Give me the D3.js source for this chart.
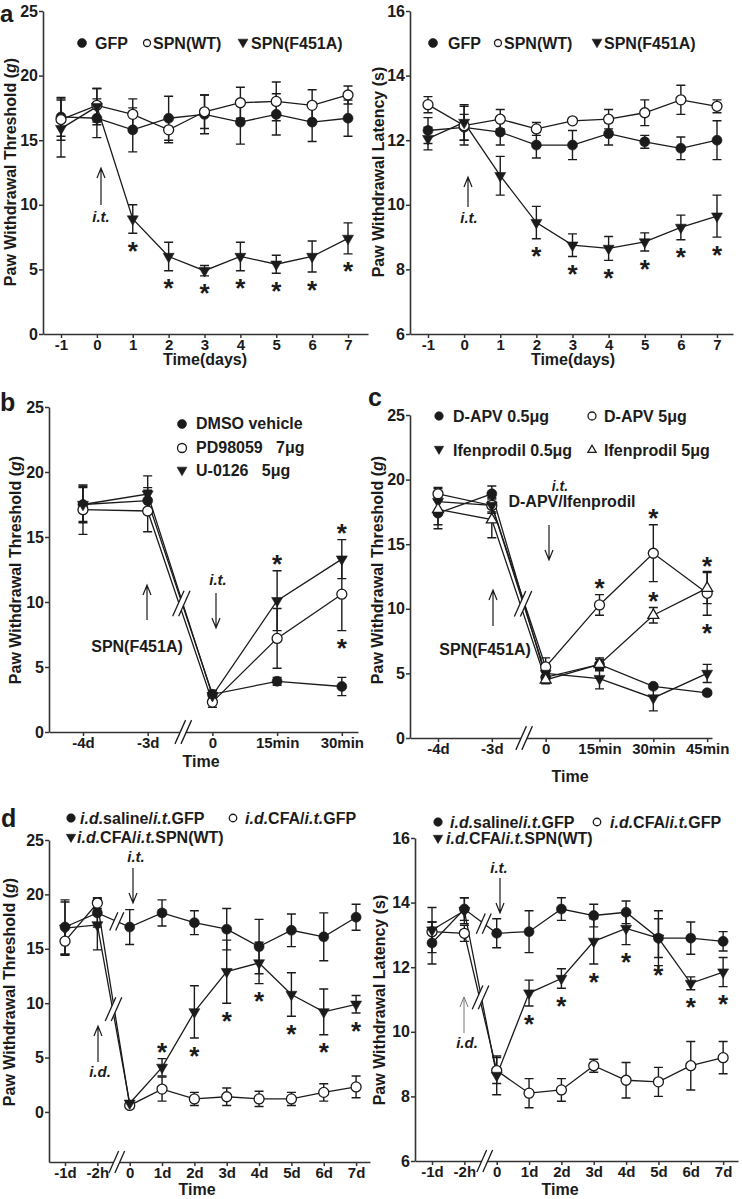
<!DOCTYPE html>
<html><head><meta charset="utf-8">
<script src="https://cdn.jsdelivr.net/npm/d3@7"></script>
<style>
body{margin:0;background:#fff;}
svg{display:block;font-family:"Liberation Sans",Arial,Helvetica,sans-serif;font-weight:bold;}
</style></head><body>
<svg id="fig" width="742" height="1199"></svg>
<script>
// ================= DATA =================
// Panel a
const aDays = [-1,0,1,2,3,4,5,6,7];
const aDayLabels = ["-1","0","1","2","3","4","5","6","7"];
const aThrTicks = [0,5,10,15,20,25];
const aLatTicks = [6,8,10,12,14,16];
const aThrGFP = [16.8,16.7,15.8,16.7,17.0,16.4,17.0,16.4,16.7];
const aThrGFPErr = [1.5,1.5,1.7,1.7,1.5,1.7,1.6,1.5,1.4];
const aThrWT = [16.6,17.7,17.0,15.8,17.2,17.9,18.0,17.7,18.5];
const aThrWTErr = [1.6,1.3,1.2,1.0,1.3,1.2,1.5,1.2,0.7];
const aThrF451A = [15.9,17.6,8.9,6.0,4.9,6.0,5.4,6.0,7.4];
const aThrF451AErr = [2.2,1.4,1.1,1.1,0.4,1.1,0.7,1.2,1.2];
const aThrStarIdx = [2,3,4,5,6,7,8];
const aLatGFP = [12.3,12.4,12.25,11.85,11.85,12.2,11.95,11.75,12.0];
const aLatGFPErr = [0.4,0.4,0.4,0.4,0.45,0.35,0.2,0.35,0.6];
const aLatWT = [13.1,12.45,12.65,12.35,12.6,12.65,12.85,13.25,13.05];
const aLatWTErr = [0.25,0.6,0.3,0.2,0.05,0.3,0.4,0.45,0.2];
const aLatF451A = [12.05,12.55,10.9,9.45,8.75,8.65,8.85,9.3,9.65];
const aLatF451AErr = [0.35,0.55,0.6,0.5,0.35,0.37,0.28,0.38,0.65];
const aLatStarIdx = [3,4,5,6,7,8];
const aLegend = ["GFP","SPN(WT)","SPN(F451A)"];

// Panel b
const bTimes = [0,1,2,3,4];
const bTimeLabels = ["-4d","-3d","0","15min","30min"];
const bDMSO = [17.5,17.8,2.9,3.9,3.5];
const bDMSOErr = [1.4,1.0,0.3,0.3,0.7];
const bPD = [17.1,17.0,2.3,7.2,10.6];
const bPDErr = [1.9,1.6,0.4,2.3,2.8];
const bU0126 = [17.5,18.3,2.8,10.1,13.3];
const bU0126Err = [1.3,1.4,0.4,2.3,1.5];
const bStars = [["U0126",3,"up"],["U0126",4,"up"],["PD",4,"down"]];
const bLegend = ["DMSO vehicle","PD98059   7μg","U-0126   5μg"];

// Panel c
const cTimes = [0,1,2,3,4,5];
const cTimeLabels = ["-4d","-3d","0","15min","30min","45min"];
const cDAPV05 = [17.4,18.9,4.7,5.7,4.0,3.5];
const cDAPV05Err = [1.2,0.6,0.4,0.5,0.15,0.15];
const cDAPV5 = [18.9,18.0,5.5,10.3,14.3,11.2];
const cDAPV5Err = [0.5,0.6,0.7,0.8,2.2,1.7];
const cIfen05 = [18.3,18.0,5.0,4.6,3.1,5.0];
const cIfen05Err = [1.0,0.5,0.3,0.8,1.0,0.7];
const cIfen5 = [17.7,16.9,4.5,5.7,9.5,11.6];
const cIfen5Err = [1.2,1.4,0.3,0.4,0.6,1.2];
const cStars = [["DAPV5",3,"up"],["DAPV5",4,"up"],["Ifen5",4,"up"],["Ifen5",5,"up"],["DAPV5",5,"down"]];
const cLegend = ["D-APV 0.5μg","D-APV 5μg","Ifenprodil 0.5μg","Ifenprodil 5μg"];

// Panel d
const dTimes = [0,1,2,3,4,5,6,7,8,9];
const dTimeLabels = ["-1d","-2h","0","1d","2d","3d","4d","5d","6d","7d"];
const dThrSaline = [17.0,18.3,17.0,18.3,17.4,16.8,15.2,16.7,16.1,17.9];
const dThrSalineErr = [2.5,1.3,1.6,1.2,1.1,1.9,2.5,1.5,2.2,1.2];
const dThrCFA = [15.7,19.2,0.6,2.1,1.2,1.4,1.2,1.2,1.8,2.3];
const dThrCFAErr = [1.3,0.5,0.1,1.1,0.6,0.8,0.7,0.6,0.8,1.0];
const dThrSPN = [16.9,17.2,0.8,4.1,9.2,12.9,13.7,10.8,9.2,9.9];
const dThrSPNErr = [2.4,2.3,0.2,0.8,2.4,2.9,1.9,2.0,2.1,0.8];
const dThrStars = [["SPN",3,"up"],["SPN",4,"down"],["SPN",5,"down"],["SPN",6,"down"],["SPN",7,"down"],["SPN",8,"down"],["SPN",9,"down"]];
const dLatSaline = [12.75,13.8,13.05,13.1,13.8,13.6,13.7,12.9,12.9,12.8];
const dLatSalineErr = [0.65,0.35,0.45,0.65,0.35,0.35,0.35,0.85,0.5,0.3];
const dLatCFA = [13.1,13.05,8.8,8.1,8.2,8.95,8.5,8.45,8.95,9.2];
const dLatCFAErr = [0.3,0.25,0.4,0.45,0.35,0.2,0.55,0.45,0.75,0.5];
const dLatSPN = [13.15,13.75,8.65,11.2,11.65,12.8,13.2,12.9,11.5,11.85];
const dLatSPNErr = [0.7,0.4,0.6,0.4,0.3,0.7,0.5,0.6,0.2,0.45];
const dLatStars = [["SPN",3,"down"],["SPN",4,"down"],["SPN",5,"down"],["SPN",6,"down"],["SPN",7,"down"],["SPN",8,"down"],["SPN",9,"down"]];
const dThrTicks = [0,5,10,15,20,25];
const dLatTicks = [6,8,10,12,14,16];

// ================= DRAWING =================
const svg = d3.select("#fig");
const INK = "#1b1b1b";
const FONT = '"Liberation Sans",Arial,Helvetica,sans-serif';

function drawSym(g, type, cx, cy, s = 1) {
  const open = type === "oc" || type === "tu";
  let p, rot = 0;
  if (type === "fc" || type === "oc") p = d3.symbol(d3.symbolCircle, Math.PI * 25 * s * s)();
  else { p = d3.symbol(d3.symbolTriangle, 52 * s * s)(); if (type === "td") rot = 180; }
  g.append("path").attr("d", p)
    .attr("transform", `translate(${cx},${cy}) rotate(${rot})`)
    .attr("fill", open ? "#fff" : INK).attr("stroke", INK)
    .attr("stroke-width", open ? 1.3 : 0.6);
}

function breakMark(g, cx, cy, len, ang = 66, sep = 6) {
  const a = ang * Math.PI / 180, dx = Math.cos(a) * len / 2, dy = Math.sin(a) * len / 2;
  const pts = [[cx - sep / 2 - dx, cy + dy], [cx - sep / 2 + dx, cy - dy], [cx + sep / 2 + dx, cy - dy], [cx + sep / 2 - dx, cy + dy]];
  g.append("path").attr("d", d3.line()(pts) + "Z").attr("fill", "#fff");
  [-sep / 2, sep / 2].forEach(o => g.append("line")
    .attr("x1", cx + o - dx).attr("y1", cy + dy).attr("x2", cx + o + dx).attr("y2", cy - dy)
    .attr("stroke", INK).attr("stroke-width", 1.3));
}

function arrow(g, x, yTail, yHead, color = INK, w = 1.2) {
  const dir = Math.sign(yHead - yTail);
  g.append("path")
    .attr("d", `M${x},${yTail}L${x},${yHead}M${x - 4},${yHead - dir * 10}L${x},${yHead}L${x + 4},${yHead - dir * 10}`)
    .attr("fill", "none").attr("stroke", color).attr("stroke-width", w);
}

function txt(g, x, y, parts, opt = {}) {
  const t = g.append("text").attr("x", x).attr("y", y)
    .attr("font-size", opt.size || 16).attr("font-weight", "bold")
    .attr("font-family", FONT).attr("fill", opt.color || INK)
    .attr("text-anchor", opt.anchor || "start")
    .style("white-space", "pre");
  if (opt.rotate) t.attr("transform", `rotate(${opt.rotate},${x},${y})`);
  if (opt.dy) t.attr("dy", opt.dy);
  (Array.isArray(parts) ? parts : [[parts, false]]).forEach(([s, it]) =>
    t.append("tspan").text(s).attr("font-style", it ? "italic" : "normal"));
  return t;
}

function styleAxis(sel, fs) {
  sel.attr("font-family", FONT).attr("font-size", fs).attr("font-weight", "bold");
  sel.select(".domain").attr("stroke", "#333").attr("stroke-width", 1.6);
  sel.selectAll(".tick line").attr("stroke", "#333").attr("stroke-width", 1.5);
  sel.selectAll(".tick text").attr("fill", INK);
}

function star(g, cx, cy) {
  const fs = 26;
  g.append("text").attr("x", cx).attr("y", cy + fs * 0.56).attr("text-anchor", "middle")
    .attr("font-size", fs).attr("font-weight", "bold").attr("font-family", FONT)
    .attr("fill", INK).text("*");
}

function drawPanel(c) {
  const g = svg.append("g");
  const x = d3.scaleLinear().domain(c.xDom).range(c.xRng);
  const y = d3.scaleLinear().domain(c.yDom).range(c.yRng);

  g.append("g").attr("transform", `translate(0,${c.yRng[0]})`)
    .call(d3.axisBottom(x).tickValues(c.xVals).tickFormat((d, i) => c.xLabels[i])
      .tickSize(4).tickPadding(1).tickSizeOuter(0)).call(styleAxis, 15);
  g.append("g").attr("transform", `translate(${c.xRng[0]},0)`)
    .call(d3.axisLeft(y).tickValues(c.yTicks).tickSize(4).tickPadding(1).tickSizeOuter(0)).call(styleAxis, 16);

  const ser = {};
  c.series.forEach(s => ser[s.key] = s);
  c.series.forEach(s => {
    g.append("path").datum(s.v)
      .attr("d", d3.line().x((d, i) => x(c.xVals[i])).y(d => y(d)))
      .attr("fill", "none").attr("stroke", INK).attr("stroke-width", 1.3);
  });
  (c.breaks || []).forEach(b => {
    const cx = x(b.at);
    let cy;
    if (b.axis) cy = c.yRng[0];
    else {
      const i0 = Math.floor(b.at), f = b.at - i0;
      const vals = b.on.map(k => ser[k].v[i0] * (1 - f) + ser[k].v[i0 + 1] * f);
      cy = y(d3.mean(vals));
    }
    breakMark(g, cx, cy, b.len || 24);
  });
  c.series.forEach(s => {
    s.v.forEach((v, i) => {
      const xx = x(c.xVals[i]), e = s.e[i];
      const yt = y(v + e), yb = y(v - e);
      g.append("path").attr("d", `M${xx},${yt}L${xx},${yb}M${xx - 4.5},${yt}L${xx + 4.5},${yt}M${xx - 4.5},${yb}L${xx + 4.5},${yb}`)
        .attr("fill", "none").attr("stroke", INK).attr("stroke-width", 1.4);
    });
  });
  c.series.forEach(s => s.v.forEach((v, i) => drawSym(g, s.sym, x(c.xVals[i]), y(v))));
  (c.stars || []).forEach(([k, i, side]) => {
    const s = ser[k];
    const cx = x(c.xVals[i]);
    const cy = side === "up" ? y(s.v[i] + s.e[i]) - 12 : y(s.v[i] - s.e[i]) + 12;
    star(g, cx, cy);
  });
  txt(g, c.xTitle[1], c.xTitle[2], c.xTitle[0], { anchor: "middle" });
  txt(g, c.yTitle[1], c.yTitle[2], c.yTitle[0], { anchor: "middle", rotate: -90, dy: "0.35em" });
  return { g, x, y };
}

// ---------- Panel a (left) ----------
const aL = drawPanel({
  xDom: [-1.502, 7.557], xRng: [43, 368], yDom: [0, 25], yRng: [334, 11],
  xVals: aDays, xLabels: aDayLabels, yTicks: aThrTicks,
  series: [
    { key: "GFP", v: aThrGFP, e: aThrGFPErr, sym: "fc" },
    { key: "WT", v: aThrWT, e: aThrWTErr, sym: "oc" },
    { key: "F451A", v: aThrF451A, e: aThrF451AErr, sym: "td" }],
  stars: aThrStarIdx.map(i => ["F451A", i, "down"]),
  xTitle: ["Time(days)", 205, 365],
  yTitle: [[["Paw Withdrawal Threshold (", false], ["g", true], [")", false]], 10, 172]
});
txt(aL.g, 0, 22, "a", { size: 24 });
drawSym(aL.g, "fc", 82, 43, 0.9); txt(aL.g, 95, 49, aLegend[0]);
drawSym(aL.g, "oc", 147, 43, 0.7); txt(aL.g, 153, 49, aLegend[1]);
drawSym(aL.g, "td", 243, 42, 0.9); txt(aL.g, 251, 49, aLegend[2]);
arrow(aL.g, 101, 205, 168);
txt(aL.g, 101, 222, [["i.t.", true]], { anchor: "middle", size: 15 });

// ---------- Panel a (right) ----------
const aR = drawPanel({
  xDom: [-1.498, 7.443], xRng: [410, 733], yDom: [6, 16], yRng: [334, 11],
  xVals: aDays, xLabels: aDayLabels, yTicks: aLatTicks,
  series: [
    { key: "GFP", v: aLatGFP, e: aLatGFPErr, sym: "fc" },
    { key: "WT", v: aLatWT, e: aLatWTErr, sym: "oc" },
    { key: "F451A", v: aLatF451A, e: aLatF451AErr, sym: "td" }],
  stars: aLatStarIdx.map(i => ["F451A", i, "down"]),
  xTitle: ["Time(days)", 573, 365],
  yTitle: [[["Paw Withdrawal Latency (s)", false]], 378, 172]
});
drawSym(aR.g, "fc", 433, 43, 0.9); txt(aR.g, 448, 49, aLegend[0]);
drawSym(aR.g, "oc", 498, 43, 0.7); txt(aR.g, 504, 49, aLegend[1]);
drawSym(aR.g, "td", 597, 42, 0.9); txt(aR.g, 604, 49, aLegend[2]);
arrow(aR.g, 468, 207, 177);
txt(aR.g, 469, 223, [["i.t.", true]], { anchor: "middle", size: 15 });

// ---------- Panel b ----------
const B = drawPanel({
  xDom: [-0.525, 4.25], xRng: [49, 358], yDom: [0, 25], yRng: [732, 407],
  xVals: bTimes, xLabels: bTimeLabels, yTicks: aThrTicks,
  series: [
    { key: "DMSO", v: bDMSO, e: bDMSOErr, sym: "fc" },
    { key: "PD", v: bPD, e: bPDErr, sym: "oc" },
    { key: "U0126", v: bU0126, e: bU0126Err, sym: "td" }],
  breaks: [{ at: 1.55, axis: true, len: 26 }, { at: 1.52, on: ["DMSO", "PD", "U0126"], len: 28 }],
  stars: bStars,
  xTitle: ["Time", 201, 767],
  yTitle: [[["Paw Withdrawal Threshold (", false], ["g", true], [")", false]], 15, 570]
});
txt(B.g, 0, 411, "b", { size: 25 });
drawSym(B.g, "fc", 182, 424, 0.9); txt(B.g, 196, 429, bLegend[0]);
drawSym(B.g, "oc", 182, 448, 0.9); txt(B.g, 196, 453, bLegend[1]);
drawSym(B.g, "td", 182, 470, 0.9); txt(B.g, 196, 476, bLegend[2]);
arrow(B.g, 147, 620, 585);
txt(B.g, 137, 652, "SPN(F451A)", { anchor: "middle" });
txt(B.g, 218, 585, [["i.t.", true]], { anchor: "middle", size: 15 });
arrow(B.g, 216, 593, 628);

// ---------- Panel c ----------
const C = drawPanel({
  xDom: [-0.52, 5.09], xRng: [410, 712], yDom: [0, 25], yRng: [738, 415],
  xVals: cTimes, xLabels: cTimeLabels, yTicks: aThrTicks,
  series: [
    { key: "DAPV05", v: cDAPV05, e: cDAPV05Err, sym: "fc" },
    { key: "DAPV5", v: cDAPV5, e: cDAPV5Err, sym: "oc" },
    { key: "Ifen05", v: cIfen05, e: cIfen05Err, sym: "td" },
    { key: "Ifen5", v: cIfen5, e: cIfen5Err, sym: "tu" }],
  breaks: [{ at: 1.6, axis: true, len: 26 }, { at: 1.58, on: ["DAPV05", "DAPV5", "Ifen05", "Ifen5"], len: 28 }],
  stars: cStars,
  xTitle: ["Time", 570, 782],
  yTitle: [[["Paw Withdrawal Threshold (", false], ["g", true], [")", false]], 377, 570]
});
txt(C.g, 368, 406, "c", { size: 25 });
drawSym(C.g, "fc", 439, 416, 0.85); txt(C.g, 453, 422, cLegend[0]);
drawSym(C.g, "oc", 592, 416, 0.8); txt(C.g, 604, 422, cLegend[1]);
drawSym(C.g, "td", 439, 449, 0.85); txt(C.g, 453, 456, cLegend[2]);
drawSym(C.g, "tu", 592, 450, 0.75); txt(C.g, 604, 456, cLegend[3]);
txt(C.g, 560, 491, [["i.t.", true]], { anchor: "middle", size: 14 });
txt(C.g, 572, 507, "D-APV/Ifenprodil", { anchor: "middle" });
arrow(C.g, 549, 525, 560);
arrow(C.g, 493, 626, 590);
txt(C.g, 485, 655, "SPN(F451A)", { anchor: "middle" });

// ---------- Panel d (left) ----------
const DL = drawPanel({
  xDom: [-0.495, 9.43], xRng: [49, 370], yDom: [-4.6, 25], yRng: [1162, 840],
  xVals: dTimes, xLabels: dTimeLabels, yTicks: dThrTicks,
  series: [
    { key: "Saline", v: dThrSaline, e: dThrSalineErr, sym: "fc" },
    { key: "CFA", v: dThrCFA, e: dThrCFAErr, sym: "oc" },
    { key: "SPN", v: dThrSPN, e: dThrSPNErr, sym: "td" }],
  breaks: [{ at: 1.6, axis: true, len: 24 }, { at: 1.6, on: ["Saline"], len: 20 }, { at: 1.5, on: ["CFA", "SPN"], len: 26 }],
  stars: dThrStars,
  xTitle: ["Time", 197, 1195],
  yTitle: [[["Paw Withdrawal Threshold (", false], ["g", true], [")", false]], 9, 992]
});
txt(DL.g, 1, 827, "d", { size: 25 });
drawSym(DL.g, "fc", 71, 818, 0.85);
txt(DL.g, 80, 824, [["i.d.", true], ["saline/", false], ["i.t.", true], ["GFP", false]]);
drawSym(DL.g, "oc", 233, 818, 0.75);
txt(DL.g, 245, 824, [["i.d.", true], ["CFA/", false], ["i.t.", true], ["GFP", false]]);
drawSym(DL.g, "td", 71, 837, 0.85);
txt(DL.g, 77, 843, [["i.d.", true], ["CFA/", false], ["i.t.", true], ["SPN(WT)", false]]);
txt(DL.g, 136, 862, [["i.t.", true]], { anchor: "middle", size: 15 });
arrow(DL.g, 133, 868, 903);
arrow(DL.g, 98, 1062, 1026);
txt(DL.g, 100, 1077, [["i.d.", true]], { anchor: "middle", size: 15 });

// ---------- Panel d (right) ----------
const DR = drawPanel({
  xDom: [-0.526, 9.46], xRng: [415, 738], yDom: [6, 16], yRng: [1161, 838],
  xVals: dTimes, xLabels: dTimeLabels, yTicks: dLatTicks,
  series: [
    { key: "Saline", v: dLatSaline, e: dLatSalineErr, sym: "fc" },
    { key: "CFA", v: dLatCFA, e: dLatCFAErr, sym: "oc" },
    { key: "SPN", v: dLatSPN, e: dLatSPNErr, sym: "td" }],
  breaks: [{ at: 1.63, axis: true, len: 24 }, { at: 1.6, on: ["Saline"], len: 22 }, { at: 1.5, on: ["CFA", "SPN"], len: 26 }],
  stars: dLatStars,
  xTitle: ["Time", 560, 1195],
  yTitle: [[["Paw Withdrawal Latency (s)", false]], 379, 1000]
});
drawSym(DR.g, "fc", 438, 822, 0.85);
txt(DR.g, 450, 828, [["i.d.", true], ["saline/", false], ["i.t.", true], ["GFP", false]]);
drawSym(DR.g, "oc", 597, 822, 0.75);
txt(DR.g, 610, 828, [["i.d.", true], ["CFA/", false], ["i.t.", true], ["GFP", false]]);
drawSym(DR.g, "td", 438, 838, 0.85);
txt(DR.g, 446, 844, [["i.d.", true], ["CFA/", false], ["i.t.", true], ["SPN(WT)", false]]);
txt(DR.g, 499, 873, [["i.t.", true]], { anchor: "middle", size: 15 });
arrow(DR.g, 500, 878, 913);
arrow(DR.g, 464, 1033, 997, "#777", 1);
txt(DR.g, 467, 1048, [["i.d.", true]], { anchor: "middle", size: 15 });
</script>
</body></html>
